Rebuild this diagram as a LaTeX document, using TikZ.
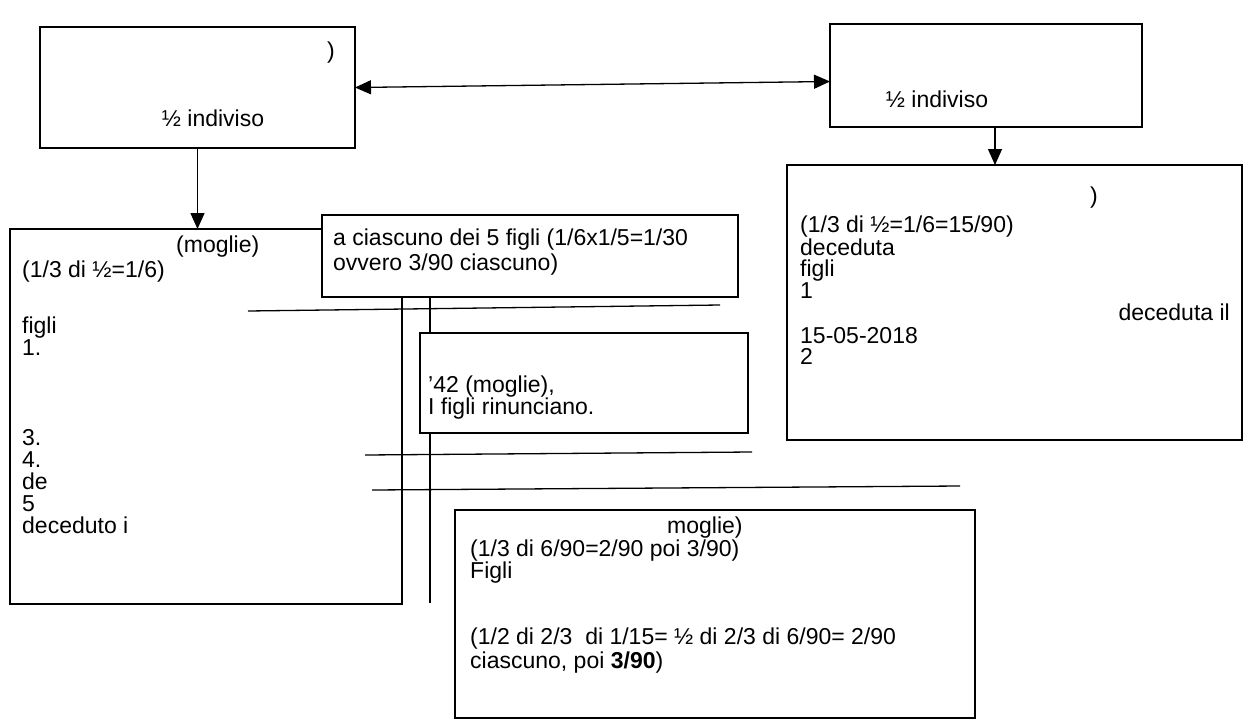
\documentclass[tikz,border=0pt]{standalone}
\usepackage{fontspec}
\setmainfont{Liberation Sans}
\usetikzlibrary{arrows.meta}
\begin{document}
\begin{tikzpicture}[x=1pt,y=-1pt,
  box/.style={draw, line width=1.3pt, fill=white, rectangle, anchor=north west, inner sep=0pt, outer sep=0pt},
  txt/.style={anchor=base west, inner sep=0pt, font=\fontsize{23}{26}\selectfont},
  conn/.style={line width=1.3pt},
  arr/.style={conn, -{Triangle[length=16pt,width=14pt]}},
  darr/.style={conn, {Triangle[length=16pt,width=14pt]}-{Triangle[length=16pt,width=14pt]}}]
\useasboundingbox[fill=white] (0,0) rectangle (1250,723);

% lower-left box
\node[box, minimum width=392pt, minimum height=375pt] (C) at (10,229) {};

% free connector lines
\coordinate (l1a) at (248,311); \coordinate (l1b) at (720,305);
\coordinate (v1) at (430,297);  \coordinate (v2) at (430,603);
\coordinate (l2a) at (365,455); \coordinate (l2b) at (752,452);
\coordinate (l3a) at (372,490); \coordinate (l3b) at (960,486);
\draw[conn] (l1a) -- (l1b);
\draw[conn] (v1) -- (v2);
\draw[conn] (l2a) -- (l2b);
\draw[conn] (l3a) -- (l3b);

% other boxes
\node[box, minimum width=416pt, minimum height=82pt]  (E) at (322,215) {};
\node[box, minimum width=328pt, minimum height=100pt] (F) at (420,333) {};
\node[box, minimum width=520pt, minimum height=208pt] (G) at (455,510) {};
\node[box, minimum width=315pt, minimum height=121pt] (A) at (40,27) {};
\node[box, minimum width=312pt, minimum height=103pt] (B) at (830,24) {};
\node[box, minimum width=455pt, minimum height=275pt] (D) at (787,165) {};

% arrows
\draw[darr] (A.east) -- ([yshift=-6pt]B.west);
\draw[arr] (A.south) -- (A.south |- C.north);
\draw[arr] ([xshift=9pt]B.south) -- ([xshift=9pt]B.south |- D.north);

% texts A
\node[txt] (a1) at (327,58) {)};
\node[txt, anchor=base] (a2) at (213,126) {½ indiviso};
% texts B
\node[txt, anchor=base] (b1) at (937,107) {½ indiviso};
% texts C
\node[txt] (c1) at (176,252) {(moglie)};
\node[txt] (c2) at (22,277) {(1/3 di ½=1/6)};
\node[txt] (c3) at (22,333) {figli};
\node[txt] (c4) at (22,355) {1.};
\node[txt] (c5) at (22,445) {3.};
\node[txt] (c6) at (22,467) {4.};
\node[txt] (c7) at (22,489) {de};
\node[txt] (c8) at (22,511) {5};
\node[txt] (c9) at (22,533) {deceduto i};
% texts E
\node[txt] (e1) at (333,245) {a ciascuno dei 5 figli (1/6x1/5=1/30};
\node[txt] (e2) at (333,270) {ovvero 3/90 ciascuno)};
% texts F
\node[txt] (f1) at (428,392) {'42 (moglie),};
\node[txt] (f2) at (428,414) {I figli rinunciano.};
% texts D
\node[txt] (d1) at (1090,203) {)};
\node[txt] (d2) at (800,232) {(1/3 di ½=1/6=15/90)};
\node[txt] (d3) at (800,255) {deceduta};
\node[txt] (d4) at (800,276) {figli};
\node[txt] (d5) at (800,298) {1};
\node[txt, anchor=base east] (d6) at (1230,320) {deceduta il};
\node[txt] (d7) at (800,343) {15-05-2018};
\node[txt] (d8) at (800,364) {2};
% texts G
\node[txt] (g1) at (667,533) {moglie)};
\node[txt] (g2) at (470,556) {(1/3 di 6/90=2/90 poi 3/90)};
\node[txt] (g3) at (470,578) {Figli};
\node[txt] (g4) at (470,644) {(1/2 di 2/3\ \ di 1/15= ½ di 2/3 di 6/90= 2/90};
\node[txt] (g5) at (470,668) {ciascuno, poi \textbf{3/90})};
\end{tikzpicture}
\end{document}
